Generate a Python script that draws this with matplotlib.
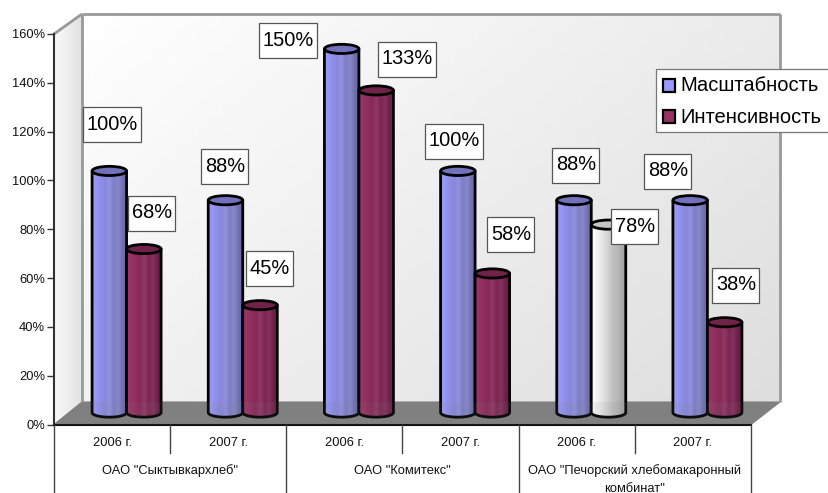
#!/usr/bin/env python
"""3D-style cylinder chart: scale and intensity of three companies, 2006-2007."""
import matplotlib

matplotlib.use("Agg")
import matplotlib.pyplot as plt
import numpy as np
from matplotlib.colors import LinearSegmentedColormap
from matplotlib.patches import Ellipse, PathPatch, Polygon, Rectangle
from matplotlib.path import Path
from matplotlib.transforms import Affine2D

plt.rcParams["font.family"] = ["Liberation Sans", "DejaVu Sans"]

# =============================================================================
# DATA
# =============================================================================
years = ["2006 г.", "2007 г.", "2006 г.", "2007 г.", "2006 г.", "2007 г."]
companies = ['ОАО "Сыктывкархлеб"', 'ОАО "Комитекс"', 'ОАО "Печорский хлебомакаронный\nкомбинат"']
scale_values = [100, 88, 150, 100, 88, 88]
intensity_values = [68, 45, 133, 58, 78, 38]
series_names = ["Масштабность", "Интенсивность"]
y_ticks = [0, 20, 40, 60, 80, 100, 120, 140, 160]

# label box centres, in picture pixels
scale_label_pos = [(112, 124), (225, 166), (288, 40), (454, 141), (576, 165), (668, 171)]
intensity_label_pos = [(152, 213), (270, 268), (407, 59), (511, 234), (635, 226), (736, 285)]

W, H = 829, 493
BAR_W = 0.297
DX, DY = 14.5, 9.5  # bars stand behind the front plane
BASE = 1.0  # cylinders start a little above the axis zero in this projection
BLUE = ["#9c9cff", "#9696f4", "#8e8ee8", "#8888da", "#9292de", "#7e7ec6", "#8888cc", "#7272b0", "#64649e"]
BLUE_TOP = "#7272bc"
CRIMSON = ["#a03468", "#973264", "#8e2e5c", "#862a56", "#92386a", "#7a2650", "#863060", "#6c2248", "#602040"]
CRIMSON_TOP = "#702248"
WHITE = ["#ffffff", "#f6f6f6", "#ececec", "#dedede", "#d0d0d0", "#c0c0c0", "#b8b8b8", "#acacac", "#a0a0a0"]
WHITE_TOP = "#c4c4c4"

fig = plt.figure(figsize=(W / 100, H / 100), dpi=100, facecolor="white")

# -----------------------------------------------------------------------------
# walls and floor, in pixel coordinates
# -----------------------------------------------------------------------------
bg = fig.add_axes([0, 0, 1, 1], zorder=0)
bg.set_xlim(0, W)
bg.set_ylim(H, 0)
bg.axis("off")

yy, xx = np.mgrid[0:1:60j, 0:1:60j]
wall_cmap = LinearSegmentedColormap.from_list("wall", ["#ffffff", "#dedede"])
wall = bg.imshow((xx * 0.6 + yy * 0.4), extent=(82, 780, 402, 14), cmap=wall_cmap, aspect="auto", zorder=1)
wall.set_clip_path(Rectangle((82, 14), 698, 388, transform=bg.transData))

side_cmap = LinearSegmentedColormap.from_list("side", ["#fafafa", "#e2e2e2"])
side_poly = Polygon([(54, 34), (82, 14), (82, 402), (54, 424.5)], closed=True, fc="none", ec="none", transform=bg.transData)
bg.add_patch(side_poly)
side = bg.imshow(np.linspace(0, 1, 60).reshape(1, -1), extent=(54, 82, 424.5, 14), cmap=side_cmap, aspect="auto", zorder=1)
side.set_clip_path(side_poly)
bg.set_xlim(0, W)
bg.set_ylim(H, 0)

bg.add_patch(Polygon([(54, 424.5), (82, 402), (780, 402), (751, 424.5)], closed=True, fc="#808080", ec="#808080", lw=0.8, zorder=2))
wall_line = dict(color="#999999", lw=2.0, zorder=3, solid_capstyle="butt")
bg.plot([82, 82], [14, 402], **wall_line)
bg.plot([82, 780], [14, 14], **wall_line)
bg.plot([780, 780], [14, 402], **wall_line)
bg.plot([54, 82], [34, 14], **wall_line)

# -----------------------------------------------------------------------------
# main axes sit on the front plane of the box
# -----------------------------------------------------------------------------
ax = fig.add_axes([54 / W, (H - 424.5) / H, 697 / W, 390.5 / H], zorder=1)
ax.patch.set_visible(False)
ax.set_xlim(-0.5, 5.5)
ax.set_ylim(0, 160)
ax.set_yticks(y_ticks)
ax.set_yticklabels([f"{v}%" for v in y_ticks], fontsize=9.3, color="#111111")
ax.tick_params(axis="y", length=5, width=1, color="#333333", pad=1.5)
ax.set_xticks([])
for s in ["top", "right"]:
    ax.spines[s].set_visible(False)
ax.spines["left"].set_linewidth(1.5)
ax.spines["left"].set_color("#333333")
ax.spines["bottom"].set_linewidth(1.5)
ax.spines["bottom"].set_color("#111111")

offset = ax.transData + Affine2D().translate(DX, DY)


def draw_cylinder(x, value, stops, top_color, z):
    """One cylinder: gradient body clipped to its outline, plus the top ellipse."""
    h_ell = 4.6 / (390.5 / 160)  # half height of an ellipse, in value units
    left, right = x - BAR_W / 2, x + BAR_W / 2
    theta = np.linspace(np.pi, 2 * np.pi, 40)
    arc_x = x + BAR_W / 2 * np.cos(theta)
    arc_y = BASE + h_ell * np.sin(theta)
    verts = [(left, value)] + list(zip(arc_x, arc_y)) + [(right, value), (left, value)]
    body = Path(verts, closed=False)

    cmap = LinearSegmentedColormap.from_list("body", stops)
    im = ax.imshow(np.linspace(0, 1, 64).reshape(1, -1), extent=(left, right, BASE - h_ell, value), cmap=cmap,
                   aspect="auto", zorder=z, interpolation="bilinear")
    im.set_transform(offset)
    clip = PathPatch(body, transform=offset, fc="none", ec="none")
    ax.add_patch(clip)
    im.set_clip_path(clip)

    ax.add_patch(PathPatch(body, transform=offset, fc="none", ec="black", lw=2.0, zorder=z + 0.1, clip_on=False, joinstyle="round"))
    ax.add_patch(Ellipse((x, value), BAR_W, 2 * h_ell, transform=offset, fc=top_color, ec="black", lw=2.0, zorder=z + 0.2, clip_on=False))


for i in range(len(years)):
    draw_cylinder(i - BAR_W / 2, scale_values[i], BLUE, BLUE_TOP, 3 + i)
    # the one white cylinder is in the original chart
    if i == 4:
        draw_cylinder(i + BAR_W / 2, intensity_values[i], WHITE, WHITE_TOP, 3.5 + i)
    else:
        draw_cylinder(i + BAR_W / 2, intensity_values[i], CRIMSON, CRIMSON_TOP, 3.5 + i)
ax.set_xlim(-0.5, 5.5)
ax.set_ylim(0, 160)

# -----------------------------------------------------------------------------
# overlay in pixels: value labels, legend, category table
# -----------------------------------------------------------------------------
top = fig.add_axes([0, 0, 1, 1], zorder=2)
top.patch.set_visible(False)
top.set_xlim(0, W)
top.set_ylim(H, 0)
top.axis("off")

# the floor tints the feet of the cylinders a little
top.add_patch(Polygon([(54, 424.5), (82, 402), (780, 402), (751, 424.5)], closed=True, fc="#808080", ec="none", alpha=0.1, zorder=1))

for vals, positions in [(scale_values, scale_label_pos), (intensity_values, intensity_label_pos)]:
    for v, (px, py) in zip(vals, positions):
        bw = 58 if v >= 100 else 47
        top.add_patch(Rectangle((px - bw / 2, py - 17.5), bw, 35, fc="white", ec="#555555", lw=0.9, zorder=5))
        top.text(px, py, f"{v}%", ha="center", va="center", fontsize=14.4, color="black", zorder=6)

# legend box runs off the right edge of the picture
top.add_patch(Rectangle((656, 69), 180, 63, fc="white", ec="#777777", lw=0.9, zorder=5))
for name, color, y in zip(series_names, ["#9999ff", "#993366"], [85, 116.5]):
    top.add_patch(Rectangle((663, y - 6.5), 12.5, 13, fc=color, ec="black", lw=1.6, zorder=6))
    top.text(680, y + 0.8, name, ha="left", va="center", fontsize=14.5, color="black", zorder=6)

table_color = "#444444"
for i, x in enumerate(np.linspace(54, 751, 7)):
    y_end = 493 if i % 2 == 0 else 452.5
    top.plot([x, x], [424.5, y_end], color=table_color, lw=1.0, clip_on=True)

for i, label in enumerate(years):
    top.text(54 + 116.17 * (i + 0.5), 443, label, ha="center", va="center", fontsize=9.3, color="#111111")
for i, label in enumerate(companies):
    top.text(54 + 232.33 * (i + 0.5), 471, label.split("\n")[0], ha="center", va="center", fontsize=9.3, color="#111111")
top.text(54 + 232.33 * 2.5, 488.5, companies[2].split("\n")[1], ha="center", va="center", fontsize=9.3, color="#111111")

fig.savefig("out.png", dpi=100)
